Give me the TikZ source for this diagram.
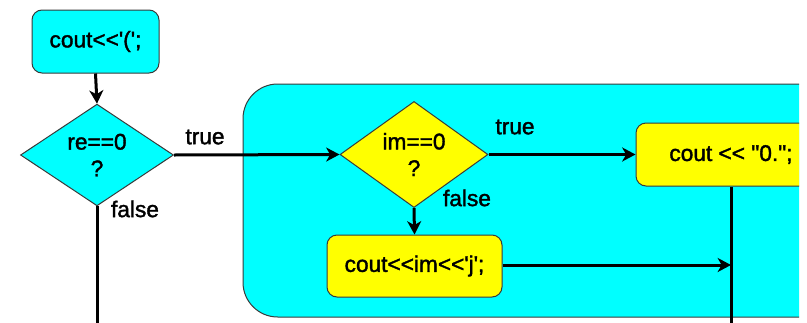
\documentclass[tikz,border=0pt]{standalone}
\usepackage{fontspec}
\setmainfont{Liberation Sans}[Ligatures=TeXOff,FakeBold=1.6]
\usetikzlibrary{shapes.geometric,arrows.meta}
\definecolor{boxcyan}{HTML}{00FFFF}
\definecolor{boxyellow}{HTML}{FFFF00}
\definecolor{rim}{HTML}{3A3A3A}
\begin{document}
\begin{tikzpicture}[x=0.75pt,y=-0.75pt,
  txt/.style={font=\fontsize{17}{20}\selectfont},
  stmt/.style={txt,draw=rim,line width=0.75pt,rounded corners=7.5pt,
    inner sep=0pt,align=center},
  test/.style={txt,diamond,draw=rim,line width=0.75pt,inner sep=0pt,
    align=center},
  flow/.style={line width=2.25pt,draw=black},
  arr/.style={flow,-{Stealth[length=10pt,width=10.5pt,inset=3pt]}},
  lbl/.style={txt,inner sep=0pt}]
\useasboundingbox (0,0) rectangle (807,322);
\clip (0,0) rectangle (799,322);
% inner block holding the imaginary-part branch
\filldraw[fill=boxcyan,draw=rim,line width=0.75pt,rounded corners=26pt]
  (243,84) rectangle (1000,317);
% statements and tests
\node[stmt,fill=boxcyan,minimum width=95.25pt,minimum height=47.25pt]
  (open) at (95.5,41.5) {cout<<'(';};
\node[test,fill=boxcyan,minimum width=114.75pt,minimum height=67.5pt]
  (re) at (97,155) {re==0\\?};
\node[test,fill=boxyellow,minimum width=111pt,minimum height=65.25pt]
  (im) at (414,154.5) {im==0\\?};
\node[stmt,fill=boxyellow,minimum width=142.5pt,minimum height=47.25pt]
  (zero) at (731,154.5) {cout << "0.";};
\node[stmt,fill=boxyellow,minimum width=131.25pt,minimum height=46.5pt]
  (imj) at (414.5,266) {cout<<im<<'j';};
% free ends leaving the view
\coordinate (reout) at (97,330);
\coordinate (zeroout) at (731,330);
\coordinate (join) at (731,265);
% connectors
\draw[arr] (open.south) -- (re.north);
\draw[arr] (re.east) -- (im.west);
\draw[flow] (re.south) -- (reout);
\draw[arr] (im.east) -- (zero.west);
\draw[arr] (im.south) -- (imj.north);
\draw[flow] (zero.south) -- (zeroout);
\draw[arr] (imj.east |- join) -- (join);
% branch labels
\node[lbl] (t1) at (205,137) {true};
\node[lbl] (f1) at (135,209) {false};
\node[lbl] (t2) at (515,127) {true};
\node[lbl] (f2) at (467,198) {false};
\end{tikzpicture}
\end{document}
